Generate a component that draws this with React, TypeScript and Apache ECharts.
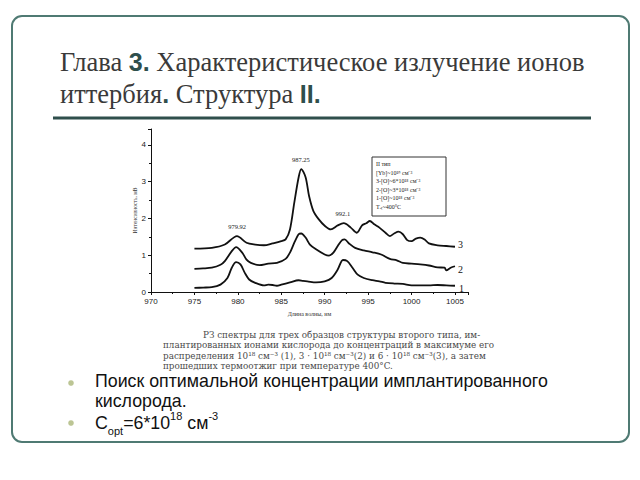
import React, { useEffect, useRef } from "react";
import * as echarts from "echarts";

// ---- data ----
const xTicks = [970, 975, 980, 985, 990, 995, 1000, 1005];
const yTicks = [0, 1, 2, 3, 4];

const curve1: [number, number][] = [
  [975, 0.11], [976, 0.12], [977, 0.13], [978, 0.2], [978.8, 0.38], [979.3, 0.66], [979.8, 0.81],
  [980.3, 0.75], [980.8, 0.52], [981.3, 0.34], [982, 0.25], [983, 0.18], [983.5, 0.2], [984, 0.19],
  [984.5, 0.17], [985, 0.2], [986, 0.26], [987, 0.32], [987.5, 0.3], [988, 0.29], [989, 0.26],
  [990, 0.29], [990.8, 0.38], [991.5, 0.61], [992.1, 0.87], [992.6, 0.84], [993.2, 0.66], [993.8, 0.47],
  [994.5, 0.38], [995.5, 0.32], [996.3, 0.29], [997, 0.25], [998, 0.23], [999, 0.22], [1000, 0.18],
  [1001, 0.18], [1002, 0.18], [1003, 0.19], [1004, 0.18], [1005, 0.17],
];
const curve2: [number, number][] = [
  [975, 0.63], [976, 0.64], [977, 0.66], [978, 0.74], [978.5, 0.84], [979.3, 1.11], [979.8, 1.22],
  [980.5, 1.07], [981, 0.88], [981.5, 0.79], [982.5, 0.73], [983.5, 0.77], [984.5, 0.79], [985.5, 0.9],
  [986, 1.07], [986.5, 1.34], [987, 1.57], [987.3, 1.59], [987.8, 1.48], [988.3, 1.29], [989, 1.16],
  [990, 1.02], [990.5, 0.99], [991, 1.07], [991.5, 1.25], [992, 1.41], [992.3, 1.43], [992.8, 1.32],
  [993.5, 1.2], [994.5, 1.13], [995.5, 1.08], [996.5, 1.02], [997.5, 0.9], [998.3, 0.86], [999, 0.79],
  [1000, 0.77], [1001, 0.75], [1002, 0.72], [1003, 0.67], [1003.8, 0.66], [1004, 0.59], [1004.5, 0.66],
  [1005, 0.7],
];
const curve3: [number, number][] = [
  [975, 1.18], [977, 1.2], [978.5, 1.29], [979.9, 1.52], [981, 1.34], [982, 1.29], [983, 1.27],
  [984, 1.32], [985, 1.38], [985.5, 1.43], [986, 1.7], [986.5, 2.43], [987, 3.12], [987.3, 3.34],
  [987.8, 3.12], [988.2, 2.61], [988.7, 2.2], [989.3, 1.98], [990, 1.8], [990.7, 1.7], [991.5, 1.81],
  [992.2, 1.87], [993, 1.75], [993.7, 1.61], [994.3, 1.81], [994.8, 1.87], [995.2, 1.93], [995.7, 1.84],
  [996.3, 1.75], [997, 1.61], [997.5, 1.52], [998, 1.59], [998.5, 1.64], [999, 1.57], [999.5, 1.41],
  [1000, 1.38], [1000.5, 1.45], [1001, 1.48], [1001.5, 1.43], [1002, 1.32], [1003, 1.27], [1004, 1.25],
  [1005, 1.23],
];
const seriesNames = ["1", "2", "3"];
const peakLabels: { text: string; coord: [number, number] }[] = [
  { text: "979.92", coord: [979.92, 1.52] },
  { text: "987.25", coord: [987.25, 3.34] },
  { text: "992.1", coord: [992.1, 1.87] },
];
const legendLines = [
  "II тип",
  "[Yb]~10¹⁹ см⁻³",
  "3-[O]~6*10¹⁸ см⁻³",
  "2-[O]~3*10¹⁸ см⁻³",
  "1-[O]~10¹⁸ см⁻³",
  "Tₒₜ~400°C",
];
const captionLines = [
  "РЗ спектры для трех образцов структуры второго типа, им-",
  "плантированных ионами кислорода до концентраций в максимуме его",
  "распределения 10¹⁸ см⁻³ (1), 3 · 10¹⁸ см⁻³(2) и 6 · 10¹⁸ см⁻³(3), а затем",
  "прошедших термоотжиг при температуре 400°C.",
];

const SERIF = "Liberation Serif";
const CAPSERIF = "DejaVu Serif";
const SANS = "Liberation Sans";
const endOffsets: [number, number][] = [[1, 3], [0, 3], [0, -2]];

export default function App() {
  const ref = useRef<HTMLDivElement>(null);
  useEffect(() => {
    if (!ref.current) return;
    const chart = echarts.init(ref.current, undefined, { renderer: "svg" });
    const curves = [curve1, curve2, curve3];
    const series: any[] = curves.map((c, i) => {
      const last = c[c.length - 1];
      const marks: any[] = [
        {
          coord: last,
          value: seriesNames[i],
          label: {
            show: true,
            formatter: seriesNames[i],
            position: "right",
            distance: 3,
            offset: endOffsets[i],
            fontFamily: SERIF,
            fontSize: 10,
            color: "#111",
          },
        },
      ];
      if (i === 2) {
        peakLabels.forEach((p) =>
          marks.push({
            coord: p.coord,
            value: p.text,
            label: {
              show: true,
              formatter: p.text,
              position: "top",
              distance: 6,
              fontFamily: SERIF,
              fontSize: 6.5,
              color: "#222",
            },
          })
        );
      }
      return {
        name: seriesNames[i],
        type: "line",
        data: c,
        showSymbol: false,
        smooth: 0.3,
        z: 5,
        lineStyle: { color: "#111", width: 1.8 },
        markPoint: { symbol: "circle", symbolSize: 0, data: marks },
      };
    });

    const graphic: any[] = [
      {
        type: "rect",
        shape: { x: 12, y: 16, width: 617, height: 426, r: 10 },
        style: { fill: "none", stroke: "#4f7a73", lineWidth: 2 },
      },
      {
        type: "text",
        x: 60,
        y: 62,
        style: {
          text: "{s|Глава }{b|3.}{s| Характеристическое излучение ионов}",
          verticalAlign: "middle",
          rich: {
            s: { fontFamily: SERIF, fontSize: 26.5, fill: "#3a3a3a" },
            b: { fontFamily: SANS, fontWeight: "bold", fontSize: 25, fill: "#2f4f4c" },
          },
        },
      },
      {
        type: "text",
        x: 60,
        y: 94,
        style: {
          text: "{s|иттербия}{b|.}{s| Структура }{b|II.}",
          verticalAlign: "middle",
          rich: {
            s: { fontFamily: SERIF, fontSize: 26.5, fill: "#3a3a3a" },
            b: { fontFamily: SANS, fontWeight: "bold", fontSize: 25, fill: "#2f4f4c" },
          },
        },
      },
      {
        type: "line",
        shape: { x1: 53, y1: 118, x2: 591, y2: 118 },
        style: { stroke: "#2f4f4c", lineWidth: 3 },
      },
      {
        type: "rect",
        shape: { x: 372, y: 157, width: 74, height: 59 },
        style: { fill: "#fff", stroke: "#333", lineWidth: 1 },
        z: 10,
      },
      ...legendLines.map((t, i) => ({
        type: "text",
        x: 376,
        y: 164 + i * 8.6,
        z: 11,
        style: { text: t, fontFamily: SERIF, fontSize: 6, fill: "#222", verticalAlign: "middle" },
      })),
      ...captionLines.map((t, i) => ({
        type: "text",
        x: i === 0 ? 203 : 163,
        y: 335 + i * 10.3,
        style: { text: t, fontFamily: CAPSERIF, fontSize: 8.8, fill: "#4a4a4a", verticalAlign: "middle" },
      })),
      { type: "circle", shape: { cx: 71, cy: 383, r: 2.8 }, style: { fill: "#bcc594" } },
      { type: "circle", shape: { cx: 71, cy: 423, r: 2.8 }, style: { fill: "#bcc594" } },
      {
        type: "text",
        x: 95,
        y: 381,
        style: { text: "Поиск оптимальной концентрации имплантированного", fontFamily: SANS, fontSize: 17.8, fill: "#111", verticalAlign: "middle" },
      },
      {
        type: "text",
        x: 95,
        y: 401,
        style: { text: "кислорода.", fontFamily: SANS, fontSize: 17.8, fill: "#111", verticalAlign: "middle" },
      },
      {
        type: "text",
        x: 95,
        y: 423,
        style: {
          text: "{n|C}{sub|opt}{n|=6*10}{sup|18}{n| см}{sup|-3}",
          verticalAlign: "middle",
          rich: {
            n: { fontFamily: SANS, fontSize: 17.8, fill: "#111", lineHeight: 26, verticalAlign: "middle" },
            sub: { fontFamily: SANS, fontSize: 11, fill: "#111", lineHeight: 26, verticalAlign: "bottom" },
            sup: { fontFamily: SANS, fontSize: 11, fill: "#111", lineHeight: 26, verticalAlign: "top" },
          },
        },
      },
    ];

    chart.setOption({
      animation: false,
      backgroundColor: "#fff",
      grid: { left: 151, right: 172, top: 129, bottom: 188 },
      xAxis: {
        type: "value",
        min: 970,
        max: 1006.5,
        interval: 5,
        name: "Длина волны, нм",
        nameLocation: "middle",
        nameGap: 19,
        nameTextStyle: { fontFamily: SERIF, fontSize: 6, color: "#333" },
        axisLine: { lineStyle: { color: "#111", width: 1 } },
        axisTick: { length: 3, lineStyle: { color: "#111" } },
        minorTick: { show: true, splitNumber: 2, length: 2, lineStyle: { color: "#111" } },
        splitLine: { show: false },
        axisLabel: {
          showMaxLabel: false,
          fontFamily: SANS,
          fontSize: 8,
          color: "#222",
          margin: 5,
          formatter: (v: number) => (xTicks.includes(v) ? String(v) : ""),
        },
      },
      yAxis: {
        type: "value",
        min: 0,
        max: 4.43,
        interval: 1,
        name: "Интенсивность, мВ",
        nameLocation: "middle",
        nameGap: 13,
        nameRotate: 90,
        nameTextStyle: { fontFamily: SERIF, fontSize: 5.5, color: "#333" },
        axisLine: { show: true, lineStyle: { color: "#111", width: 1 } },
        axisTick: { show: true, length: 3, lineStyle: { color: "#111" } },
        minorTick: { show: true, splitNumber: 2, length: 2, lineStyle: { color: "#111" } },
        splitLine: { show: false },
        axisLabel: {
          showMaxLabel: false,
          fontFamily: SANS,
          fontSize: 8,
          color: "#222",
          margin: 5,
          formatter: (v: number) => (yTicks.includes(v) ? String(v) : ""),
        },
      },
      series,
      graphic,
    });
    return () => chart.dispose();
  }, []);
  return <div ref={ref} style={{ position: "fixed", left: 0, top: 0, width: 640, height: 480 }} />;
}
